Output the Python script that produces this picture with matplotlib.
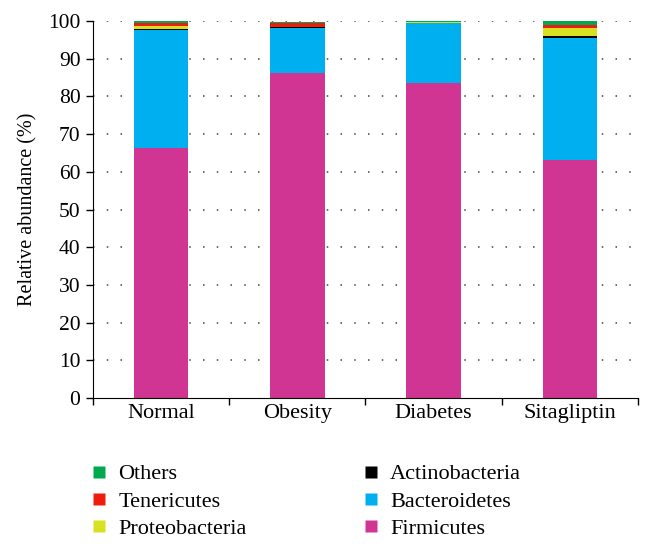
import numpy as np
import matplotlib
matplotlib.use("Agg")
import matplotlib.pyplot as plt
from matplotlib.lines import Line2D

plt.rcParams['font.family'] = ['Liberation Serif', 'DejaVu Serif']

groups = ['Normal', 'Obesity', 'Diabetes', 'Sitagliptin']
# stacked from bottom to top
phyla = ['Firmicutes', 'Bacteroidetes', 'Actinobacteria', 'Proteobacteria', 'Tenericutes', 'Others']
firmicutes = [66.2, 86.2, 83.5, 63.2]
bacteroidetes = [31.5, 12.0, 16.0, 32.3]
actinobacteria = [0.1, 0.2, 0.05, 0.6]
proteobacteria = [0.9, 0.1, 0.2, 2.0]
tenericutes = [0.7, 1.0, 0.05, 0.9]
others = [0.5, 0.2, 0.2, 0.9]
colors = ['#D13594', '#00AFEF', '#000000', '#D9E021', '#EE1C0F', '#00A94F']

series = [firmicutes, bacteroidetes, actinobacteria, proteobacteria, tenericutes, others]

fig = plt.figure(figsize=(6.53, 5.48), dpi=100)
ax = fig.add_axes([0.1424, 0.2737, 0.8346, 0.6880])

x = np.arange(len(groups))
bottom = np.zeros(len(groups))
for vals, col in zip(series, colors):
    ax.bar(x, vals, bottom=bottom, width=0.4, color=col, edgecolor='none', zorder=2)
    bottom += np.array(vals)

ax.set_xlim(-0.5, len(groups) - 0.5)
ax.set_ylim(0, 100)
ax.set_yticks(np.arange(0, 101, 10))
ax.set_xticks(x)
ax.set_xticklabels(groups, fontsize=16)
ax.set_xticks(np.arange(-0.5, len(groups)), minor=True)
ax.tick_params(axis='x', which='major', length=0, pad=4)
ax.tick_params(axis='x', which='minor', length=5, width=1, direction='out')
ax.tick_params(axis='y', length=5, width=1, labelsize=15.5, pad=4)

for gy in range(10, 101, 10):
    ax.axhline(gy, color='#444444', linestyle=(0, (1, 8)), linewidth=1.1, zorder=1)

ax.spines['top'].set_visible(False)
ax.spines['right'].set_visible(False)
ax.set_ylabel('Relative abundance (%)', fontsize=14.5, labelpad=8)

# legend, column-major: Others, Tenericutes, Proteobacteria | Actinobacteria, Bacteroidetes, Firmicutes
order = [5, 4, 3, 2, 1, 0]
handles = [Line2D([], [], marker='s', linestyle='none', markersize=8,
                  markerfacecolor=colors[i], markeredgecolor='none') for i in order]
labels = [phyla[i] for i in order]
fig.legend(handles, labels, ncol=2, loc='upper left', bbox_to_anchor=(0.125, 0.17),
           frameon=False, fontsize=16, handlelength=0.8, handletextpad=0.45,
           columnspacing=5.2, labelspacing=0.3, borderaxespad=0)

fig.savefig('out.png', dpi=100)
